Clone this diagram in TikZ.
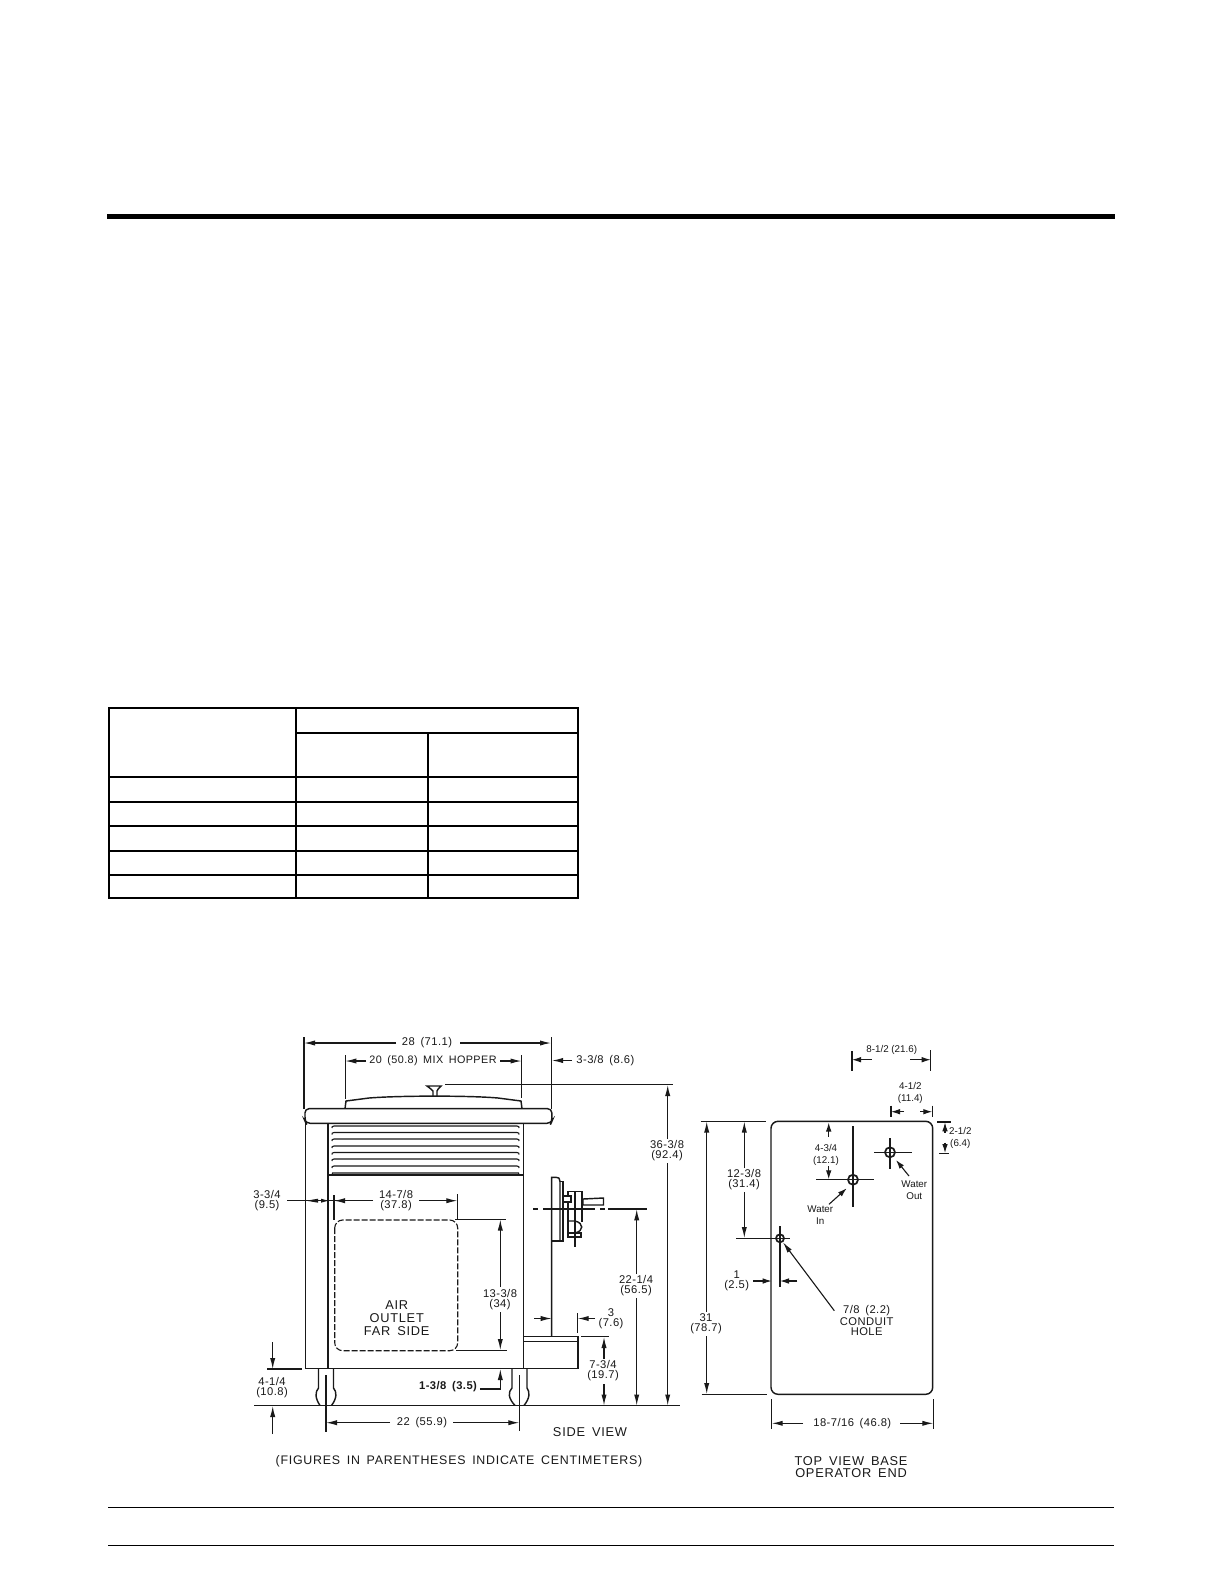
\documentclass[tikz,border=0pt]{standalone}
\usepackage{fontspec}
\setmainfont{Liberation Sans}
\newfontfamily\cadf[LetterSpace=4,WordSpace=1.6]{Liberation Sans}
\newfontfamily\cadb[LetterSpace=6,WordSpace=1.6]{Liberation Sans}
\usetikzlibrary{arrows.meta}
\tikzset{
  tbl/.style={line width=1pt,black},
  dim/.style={line width=.55pt,black!90},
  arr/.style={dim,-{Latex[length=5.5pt,width=2.6pt]}},
  sarr/.style={dim,-{Latex[length=4.5pt,width=2.8pt]}},
  obj/.style={line width=.72pt,black!90},
  hole/.style={line width=.85pt,black!90,draw,circle,inner sep=0pt},
  cadtxt/.style={font=\fontsize{5.6}{5}\selectfont\cadf,align=center,inner sep=0pt,text=black!90},
  bigtxt/.style={font=\fontsize{6.4}{6.4}\selectfont\cadb,align=center,inner sep=0pt,text=black!90},
  arial/.style={font=\fontsize{4.9}{5.8}\selectfont,align=center,inner sep=0pt,text=black!90},
}
\begin{document}
\begin{tikzpicture}[x=.5pt,y=-.5pt]
\useasboundingbox[fill=white] (0,0) rectangle (1224,1584);
% page rules
\fill (107,213.5) rectangle (1115,219);
\draw[line width=.7pt] (108,1507.3) -- (1114,1507.3);
\draw[line width=.7pt] (108,1545.3) -- (1114,1545.3);
% table
\draw[tbl] (109,707.7) rectangle (577.7,897.7);
\draw[tbl] (296,707.7) -- (296,897.7);
\draw[tbl] (427.7,732.7) -- (427.7,897.7);
\draw[tbl] (296,732.7) -- (577.7,732.7);
\foreach \r in {776.7,801.7,825.7,850.7,874.7} \draw[tbl] (109,\r) -- (577.7,\r);

% ---------- side view ----------
% lid and knob
\draw[obj] (345,1108.7) -- (346,1101) -- (369,1098) .. controls (400,1095.5) and (470,1095.5) .. (498,1098) -- (521,1101) -- (522,1108.7);
\draw[obj] (433,1096) -- (433,1091) .. controls (431,1089) .. (427,1086) -- (441,1086) .. controls (438,1089) .. (437,1091) -- (437,1096);
% top plate
\draw[obj,rounded corners=2pt] (306,1123.3) -- (305,1121) -- (305,1108.7) -- (551.7,1108.7) -- (552,1121) -- (551,1123.3) -- cycle;
% body
\draw[obj] (305.7,1123.3) -- (305.7,1368.7) -- (578,1368.7) -- (578,1336.7) -- (524,1336.7);
\draw[obj] (328,1123.3) -- (328,1368.7);
\draw[obj] (523.5,1123.3) -- (523.5,1368.7);
\draw[obj] (524,1341.7) -- (578,1341.7);
% louvres
\foreach \v in {1126,1132.5,1139,1146,1152.5,1159,1166} \draw[dim] (332,\v+2) .. controls (332,\v+.5) .. (334,\v) -- (517,\v) .. controls (519,\v+.5) .. (519,\v+2);
\draw[dim] (332,1175) -- (332.5,1173) -- (518.5,1173) -- (519,1175);
\draw[obj] (328,1175) -- (523.5,1175);
% legs
\draw[obj] (318.5,1369) -- (318.5,1388) .. controls (315,1392) and (315,1398) .. (320,1405.5);
\draw[obj] (333.5,1369) -- (333.5,1388) .. controls (337,1392) and (337,1398) .. (331.5,1405.5);
\draw[obj] (512,1369) -- (512,1388) .. controls (508,1392) and (508,1398) .. (515,1405.5);
\draw[obj] (527,1369) -- (527,1388) .. controls (530,1392) and (530,1398) .. (524,1405.5);
\draw[dim] (326,1375) -- (326,1432);
\draw[dim] (519.3,1375) -- (519.3,1431);
% ground line
\draw[dim] (254,1405.7) -- (680,1405.7);
% operator panel
\draw[obj] (551.7,1336.7) -- (551.7,1177.3) -- (556,1177.3) .. controls (559,1177.5) .. (560,1181.7) -- (560,1241);
\draw[obj] (560,1181.7) -- (563,1181.7) -- (563,1241) -- (551.7,1241);
\draw[dim] (563,1196) rectangle (571,1202);
\draw[obj] (568,1196) -- (568,1191.5) -- (582,1191.5) -- (582,1222);
\draw[dim] (568,1202) -- (568,1237) -- (581,1237) -- (581,1233) -- (568,1233);
\draw[obj] (568,1221) -- (575,1221) .. controls (584,1223) and (584,1231) .. (575,1233);
\draw[dim] (575,1192) -- (575,1247);
\draw[obj] (583,1199) -- (603.5,1198) -- (603.5,1205) -- (583,1205) -- cycle;
\draw[dim] (533,1209) -- (538,1209) (543,1209) -- (595,1209) (600,1209) -- (605,1209) (608,1209) -- (646.7,1209);

% dimensions side view
\draw[dim] (304,1037) -- (304,1108.7);
\draw[dim] (551.2,1037) -- (551.2,1108.7);
\node[cadtxt] (d28) at (427,1043) {28 (71.1)};
\draw[arr] (396,1043) -- (304,1043);
\draw[arr] (460,1043) -- (551,1043);
\draw[dim] (345.3,1055) -- (345.3,1099);
\draw[dim] (521.5,1055) -- (521.5,1098);
\node[cadtxt,font=\fontsize{5.4}{5}\selectfont\cadf] (d20) at (433,1061) {20 (50.8) MIX HOPPER};
\draw[arr] (366,1061) -- (345.3,1061);
\draw[arr] (500,1061) -- (521.5,1061);
\draw[arr] (572,1060.5) -- (552,1060.5);
\node[cadtxt,anchor=west] (d338) at (576,1060.5) {3-3/8 (8.6)};
% overall height
\draw[dim] (445,1084.7) -- (673,1084.7);
\node[cadtxt] (d36) at (667,1151) {36-3/8\\(92.4)};
\draw[arr] (667.7,1139) -- (667.7,1085);
\draw[arr] (667.7,1163) -- (667.7,1405.5);
% 22-1/4
\node[cadtxt] (d22h) at (636,1286) {22-1/4\\(56.5)};
\draw[arr] (636.7,1274) -- (636.7,1209.3);
\draw[arr] (636.7,1298) -- (636.7,1405.5);
% 3-3/4 and 14-7/8
\node[cadtxt] (d334) at (267,1201) {3-3/4\\(9.5)};
\draw[dim] (287,1200.7) -- (345,1200.7);
\fill[black!90] (306.5,1200.7) -- (318,1198.7) -- (318,1202.7) -- cycle;
\fill[black!90] (328,1200.7) -- (321,1198.7) -- (321,1202.7) -- cycle;
\draw[dim] (334,1195) -- (334,1220);
\draw[dim] (457.3,1194) -- (457.3,1220);
\node[cadtxt] (d1478) at (396,1200.7) {14-7/8\\(37.8)};
\draw[arr] (373,1200.7) -- (334,1200.7);
\draw[arr] (419,1200.7) -- (457.3,1200.7);
% dashed window
\draw[dim,dashed,dash pattern=on 3pt off 1pt,rounded corners=4pt] (334.7,1220) rectangle (457.7,1350.7);
\node[bigtxt] (air) at (396.7,1318.5) {AIR\\[.15pt]OUTLET\\[.15pt]FAR SIDE};
% 13-3/8
\draw[dim] (455,1219.3) -- (506,1219.3);
\draw[dim] (456,1350.3) -- (507,1350.3);
\node[cadtxt] (d1338) at (500,1299.5) {13-3/8\\(34)};
\draw[arr] (500.3,1287) -- (500.3,1219.5);
\draw[arr] (500.3,1312) -- (500.3,1350);
% 3 (7.6)
\draw[dim] (577.7,1313) -- (577.7,1333);
\draw[arr] (534,1318.5) -- (551.7,1318.5);
\draw[arr] (595,1318.5) -- (577.7,1318.5);
\node[cadtxt] (d3) at (611,1318.7) {3\\(7.6)};
% 7-3/4
\draw[dim] (581,1336.5) -- (609,1336.5);
\node[cadtxt] (d734) at (603,1371) {7-3/4\\(19.7)};
\draw[arr] (604,1359) -- (604,1337);
\draw[arr] (604,1384) -- (604,1405.5);
% 4-1/4
\draw[dim] (267,1369) -- (302,1369);
\draw[arr] (272.7,1342) -- (272.7,1369);
\draw[arr] (272.7,1434) -- (272.7,1406);
\node[cadtxt] (d414) at (272,1388) {4-1/4\\(10.8)};
% 1-3/8
\node[font=\fontsize{5.6}{5}\selectfont\bfseries\cadf,inner sep=0pt,text=black!90] (d138) at (448,1387) {1-3/8 (3.5)};
\draw[arr] (480,1389) -- (500.3,1389) -- (500.3,1369);
% 22 (55.9)
\node[cadtxt] (d22) at (422,1422.7) {22 (55.9)};
\draw[arr] (390,1422.7) -- (326,1422.7);
\draw[arr] (453,1422.7) -- (519.3,1422.7);
% captions
\node[bigtxt] (sv) at (590,1432) {SIDE VIEW};
\node[bigtxt,font=\fontsize{6.2}{6.2}\selectfont\cadb] (fig) at (459,1461.7) {(FIGURES IN PARENTHESES INDICATE CENTIMETERS)};

% ---------- top view ----------
\draw[obj,rounded corners=3.5pt] (771,1121.3) rectangle (932.7,1394.3);
% overall depth
\draw[dim] (700.7,1121.3) -- (766,1121.3);
\draw[dim] (701.7,1394.5) -- (767,1394.5);
\node[cadtxt] (d31) at (706,1324) {31\\(78.7)};
\draw[arr] (706.7,1312) -- (706.7,1121.5);
\draw[arr] (706.7,1336) -- (706.7,1394);
% 12-3/8
\node[cadtxt] (d1238) at (744,1180) {12-3/8\\(31.4)};
\draw[arr] (744.3,1168) -- (744.3,1121.5);
\draw[arr] (744.3,1192) -- (744.3,1238);
% conduit
\draw[obj] (736,1238.3) -- (790,1238.3);
\draw[dim] (780,1226) -- (780,1287.3);
\node[hole,minimum size=4pt] (ch) at (780,1238.3) {};
\node[cadtxt] (cond) at (866.7,1320.3) {7/8 (2.2)\\CONDUIT\\HOLE};
\coordinate (condl) at (834.3,1310.7);
\draw[arr] (condl) -- (ch);
% 1 (2.5)
\node[cadtxt] (d1) at (736.7,1281) {1\\(2.5)};
\draw[sarr] (753,1281) -- (771.7,1281);
\draw[sarr] (797.3,1281) -- (780,1281);
% 18-7/16
\draw[dim] (771.7,1399) -- (771.7,1429);
\draw[dim] (933.3,1399) -- (933.3,1429);
\node[cadtxt] (d1871) at (852.3,1423.3) {18-7/16 (46.8)};
\draw[arr] (803,1423.3) -- (771.7,1423.3);
\draw[arr] (900,1423.3) -- (933.3,1423.3);
\node[bigtxt] (tv) at (851,1467) {TOP VIEW BASE\\OPERATOR END};
% water in
\draw[obj] (816,1179.7) -- (874,1179.7);
\draw[dim] (853,1126) -- (853,1206.7);
\node[hole,minimum size=5pt] (win) at (853,1179.7) {};
\node[arial] (winl) at (820.3,1215) {Water\\In};
\draw[sarr] (829,1204.3) -- (846.7,1188.3);
% water out
\draw[dim] (874.3,1152.3) -- (911.7,1152.3);
\draw[dim] (890,1138.3) -- (890,1169);
\node[hole,minimum size=5pt] (wout) at (890,1152.3) {};
\node[arial] (woutl) at (914.3,1190) {Water\\Out};
\draw[sarr] (909,1176) -- (896,1160);
% 4-3/4
\node[arial,font=\fontsize{4.9}{6}\selectfont] (d434) at (826,1155) {4-3/4\\(12.1)};
\draw[sarr] (828.7,1136.7) -- (828.7,1122.5);
\draw[sarr] (828.7,1166) -- (828.7,1179.3);
% 8-1/2
\node[arial] (d812) at (891.7,1050.3) {8-1/2 (21.6)};
\draw[dim] (852,1051) -- (852,1070.7);
\draw[dim] (930.7,1050) -- (930.7,1070.7);
\draw[sarr] (871.7,1059.7) -- (852,1059.7);
\draw[sarr] (910,1059.7) -- (930.7,1059.7);
% 4-1/2
\node[arial,font=\fontsize{4.9}{6}\selectfont] (d412) at (910.3,1093) {4-1/2\\(11.4)};
\draw[dim] (891,1105.7) -- (891,1117.3);
\draw[dim] (932.3,1105.7) -- (932.3,1117.3);
\draw[sarr] (904,1111.7) -- (891,1111.7);
\draw[sarr] (920,1111.7) -- (932.3,1111.7);
% 2-1/2
\draw[dim] (937.3,1122) -- (950.7,1122);
\draw[dim] (939,1153.3) -- (949,1153.3);
\draw[sarr] (945,1132.7) -- (945,1122.3);
\draw[sarr] (945,1142.7) -- (945,1153);
\node[arial,font=\fontsize{4.9}{6}\selectfont] (d212) at (960.3,1138.3) {2-1/2\\(6.4)};
\end{tikzpicture}
\end{document}
